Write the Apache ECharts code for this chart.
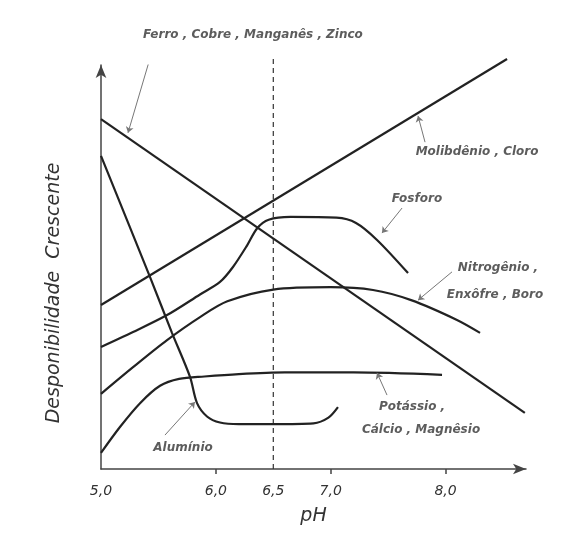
<!DOCTYPE html>
<html>
<head>
<meta charset="utf-8">
<script src="https://cdn.jsdelivr.net/npm/echarts@6/dist/echarts.min.js"></script>
<style>
html,body{margin:0;padding:0;background:#fff;}
#c{width:571px;height:533px;}
</style>
</head>
<body>
<div id="c"></div>
<script>
// x tick values and their labels
var tickValues = [5.0, 6.0, 6.5, 7.0, 8.0];
var tickLabels = ["5,0", "6,0", "6,5", "7,0", "8,0"];
var tickMarks = [6.0, 7.0, 8.0];
var yAxisTitle = "Desponibilidade  Crescente";

// curves (pH, relative availability)
var ferroCobre = [[5.0, 86.6], [8.69, 13.9]];
var molibdenio = [[5.0, 40.6], [8.535, 101.5]];
var aluminio = [[5.0, 77.5], [5.427, 47.5], [5.618, 33.7], [5.775, 22.8], [5.836, 16.3], [5.923, 13.0], [6.036, 11.5], [6.2, 11.1], [6.5, 11.1], [6.85, 11.3], [6.98, 12.7], [7.063, 15.3]];
var potassio = [[5.0, 4.0], [5.165, 10.4], [5.34, 16.3], [5.514, 20.6], [5.68, 22.3], [5.9, 22.9], [6.2, 23.5], [6.6, 23.9], [7.2, 23.9], [7.969, 23.3]];
var nitrogenio = [[5.0, 18.6], [5.279, 25.2], [5.575, 31.9], [5.862, 37.6], [6.1, 41.5], [6.5, 44.4], [7.0, 45.0], [7.368, 44.3], [7.7, 41.8], [8.099, 36.9], [8.3, 33.7]];
var fosforo = [[5.0, 30.2], [5.279, 33.9], [5.575, 38.1], [5.862, 43.2], [6.036, 46.3], [6.149, 50.0], [6.271, 55.3], [6.36, 59.6], [6.46, 61.7], [6.65, 62.4], [7.05, 62.2], [7.22, 60.9], [7.403, 56.7], [7.673, 48.5]];
var dashedRef = [[6.5, 0], [6.5, 102]];

// annotation texts and anchors
var labelTexts = ["Ferro , Cobre , Manganês , Zinco", "Molibdênio , Cloro", "Fosforo", "Nitrogênio ,", "Enxôfre , Boro", "Potássio ,", "Cálcio , Magnêsio", "Alumínio"];
var labelPos = [[6.323, 107.4], [8.274, 78.5], [7.751, 66.8], [8.456, 49.8], [8.43, 43.1], [7.708, 15.3], [7.786, 9.65], [5.714, 5.2]];
var leaders = [
  [[5.453, 104.2], [5.235, 83.2]],
  [[7.821, 80.9], [7.760, 87.4]],
  [[7.621, 64.6], [7.446, 58.4]],
  [[8.056, 48.8], [7.760, 41.8]],
  [[7.490, 18.3], [7.403, 23.8]],
  [[5.557, 8.4], [5.818, 16.6]]
];

var FONT = 'DejaVu Sans';
var chart = echarts.init(document.getElementById('c'), null, {renderer: 'canvas'});

function curve(data, smooth) {
  return {
    type: 'line', data: data, showSymbol: false, symbol: 'none', clip: false,
    smooth: smooth ? 0.3 : false,
    lineStyle: {color: '#222', width: 2.2}, silent: true, z: 3
  };
}

chart.setOption({
  animation: false,
  backgroundColor: '#fff',
  grid: {left: 101, right: 45, top: 65, bottom: 64, containLabel: false, outerBoundsMode: 'none'},
  graphic: [{
    type: 'text', x: 54, y: 293, rotation: Math.PI / 2, silent: true,
    style: {text: yAxisTitle, fontFamily: FONT, fontStyle: 'italic', fontSize: 19, fill: '#333', align: 'center', verticalAlign: 'middle'}
  }],
  xAxis: {
    type: 'value', min: 5, max: 8.7,
    name: 'pH', nameLocation: 'middle', nameGap: 38,
    nameTextStyle: {fontFamily: FONT, fontStyle: 'italic', fontSize: 19, color: '#333'},
    axisLine: {show: true, lineStyle: {color: '#444', width: 1.5}, symbol: ['none', 'arrow'], symbolSize: [8, 13]},
    axisTick: {show: true, customValues: tickMarks, length: 5, lineStyle: {color: '#444', width: 1.5}},
    axisLabel: {
      customValues: tickValues, margin: 15,
      fontFamily: FONT, fontStyle: 'italic', fontSize: 14, color: '#333',
      formatter: function (v) {
        for (var i = 0; i < tickValues.length; i++) { if (Math.abs(tickValues[i] - v) < 1e-6) return tickLabels[i]; }
        return '';
      }
    },
    splitLine: {show: false}
  },
  yAxis: {
    type: 'value', min: 0, max: 100,
    axisLine: {show: true, lineStyle: {color: '#444', width: 1.5}, symbol: ['none', 'arrow'], symbolSize: [8, 13]},
    axisTick: {show: false}, axisLabel: {show: false}, splitLine: {show: false}
  },
  series: [
    {
      type: 'line', data: dashedRef, showSymbol: false, symbol: 'none', clip: false,
      lineStyle: {color: '#333', width: 1.2, type: [5, 4]}, silent: true, z: 2
    },
    curve(ferroCobre, false),
    curve(molibdenio, false),
    curve(aluminio, true),
    curve(potassio, true),
    curve(nitrogenio, true),
    curve(fosforo, true),
    {
      type: 'lines', coordinateSystem: 'cartesian2d', silent: true, z: 4,
      symbol: ['none', 'arrow'], symbolSize: 6,
      lineStyle: {color: '#777', width: 1, opacity: 1},
      data: leaders.map(function (c) { return {coords: c}; })
    },
    {
      type: 'scatter', symbolSize: 0, silent: true, z: 5, clip: false,
      data: labelPos.map(function (p, i) { return {value: p, name: labelTexts[i]}; }),
      label: {
        show: true, position: 'inside', formatter: '{b}',
        fontFamily: FONT, fontStyle: 'italic', fontWeight: 'bold', fontSize: 12, color: '#333'
      }
    }
  ]
});
</script>
</body>
</html>
